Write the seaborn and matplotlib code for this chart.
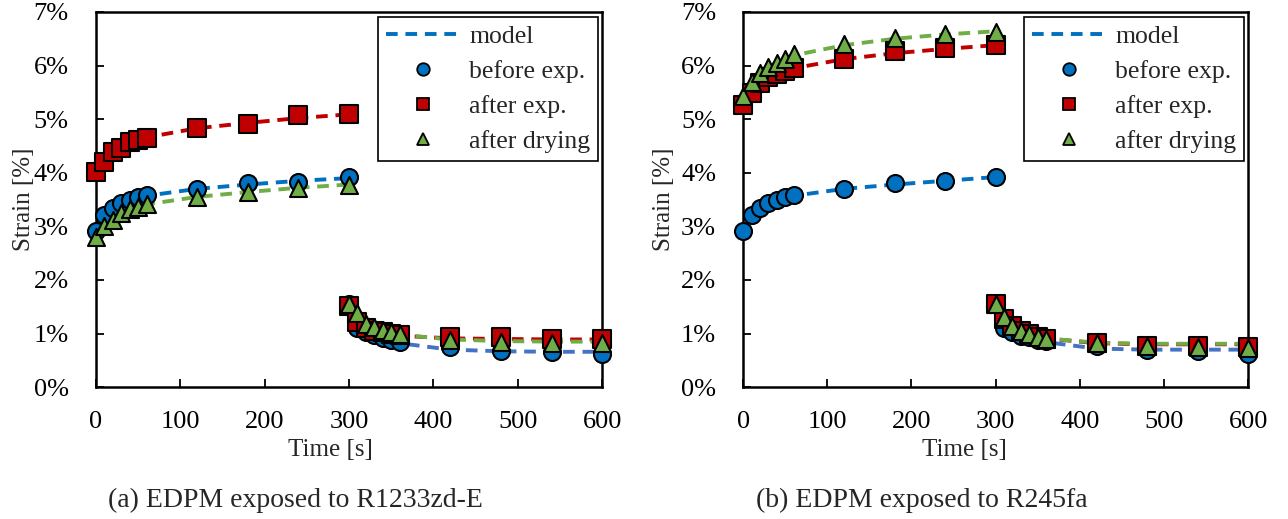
import matplotlib
matplotlib.use('Agg')
import matplotlib.pyplot as plt
import seaborn as sb
import pandas as pd
from matplotlib.ticker import FuncFormatter
from matplotlib.lines import Line2D

sb.set_style('ticks')
plt.rcParams['font.family'] = ['Liberation Serif', 'DejaVu Serif']

# time points: exposure (0-300 s) and recovery (300-600 s)
t_load = [0, 10, 20, 30, 40, 50, 60, 120, 180, 240, 300]
t_rec = [300, 310, 320, 330, 340, 350, 360, 420, 480, 540, 600]

# (a) R1233zd-E, strain in %
a_before_load = [2.92, 3.22, 3.35, 3.44, 3.50, 3.55, 3.58, 3.70, 3.80, 3.83, 3.92]
a_before_rec = [1.55, 1.10, 1.02, 0.97, 0.92, 0.88, 0.84, 0.75, 0.68, 0.65, 0.62]
a_after_load = [4.02, 4.20, 4.38, 4.46, 4.57, 4.62, 4.65, 4.83, 4.91, 5.08, 5.09]
a_after_rec = [1.52, 1.22, 1.10, 1.05, 1.02, 0.99, 0.97, 0.93, 0.93, 0.89, 0.89]
a_dry_load = [2.80, 3.00, 3.12, 3.24, 3.32, 3.37, 3.42, 3.55, 3.65, 3.72, 3.78]
a_dry_rec = [1.55, 1.38, 1.17, 1.12, 1.06, 1.03, 0.99, 0.88, 0.85, 0.83, 0.83]
# model curves (a)
a_mod_before_load = [2.92, 3.20, 3.33, 3.42, 3.48, 3.53, 3.57, 3.70, 3.78, 3.85, 3.90]
a_mod_before_rec = [1.55, 1.15, 1.02, 0.95, 0.90, 0.86, 0.82, 0.70, 0.67, 0.66, 0.66]
a_mod_after_load = [4.02, 4.22, 4.36, 4.46, 4.54, 4.60, 4.66, 4.83, 4.93, 5.02, 5.09]
a_mod_after_rec = [1.52, 1.25, 1.12, 1.05, 1.01, 0.98, 0.96, 0.91, 0.90, 0.89, 0.89]
a_mod_dry_load = [2.80, 3.00, 3.13, 3.23, 3.30, 3.36, 3.41, 3.55, 3.64, 3.72, 3.78]
a_mod_dry_rec = [1.55, 1.32, 1.18, 1.10, 1.05, 1.01, 0.98, 0.89, 0.86, 0.85, 0.85]

# (b) R245fa, strain in %
b_before_load = [2.92, 3.22, 3.35, 3.43, 3.50, 3.55, 3.58, 3.70, 3.80, 3.85, 3.92]
b_before_rec = [1.55, 1.10, 1.02, 0.95, 0.93, 0.88, 0.86, 0.77, 0.70, 0.68, 0.62]
b_after_load = [5.26, 5.49, 5.68, 5.78, 5.84, 5.90, 5.96, 6.12, 6.27, 6.33, 6.38]
b_after_rec = [1.55, 1.28, 1.15, 1.05, 1.00, 0.93, 0.90, 0.83, 0.77, 0.77, 0.75]
b_dry_load = [5.43, 5.69, 5.87, 5.98, 6.05, 6.13, 6.21, 6.40, 6.51, 6.58, 6.63]
b_dry_rec = [1.55, 1.30, 1.14, 1.04, 1.00, 0.93, 0.90, 0.82, 0.76, 0.75, 0.73]
# model curves (b)
b_mod_before_load = [2.92, 3.20, 3.33, 3.42, 3.48, 3.53, 3.57, 3.70, 3.78, 3.85, 3.92]
b_mod_before_rec = [1.55, 1.12, 1.00, 0.94, 0.90, 0.87, 0.84, 0.72, 0.70, 0.70, 0.70]
b_mod_after_load = [5.26, 5.50, 5.66, 5.76, 5.84, 5.90, 5.95, 6.12, 6.23, 6.31, 6.38]
b_mod_after_rec = [1.55, 1.28, 1.14, 1.05, 0.99, 0.94, 0.91, 0.82, 0.80, 0.80, 0.80]
b_mod_dry_load = [5.43, 5.69, 5.86, 5.97, 6.06, 6.13, 6.19, 6.38, 6.50, 6.58, 6.64]
b_mod_dry_rec = [1.55, 1.29, 1.14, 1.05, 0.99, 0.94, 0.91, 0.83, 0.81, 0.81, 0.81]

captions = ['(a) EDPM exposed to R1233zd-E', '(b) EDPM exposed to R245fa']
legend_labels = ['model', 'before exp.', 'after exp.', 'after drying']

c_blue = '#0070C0'
c_blue2 = '#4472C4'
c_red = '#C00000'
c_green = '#70AD47'

panels = [
    dict(before=(a_before_load, a_before_rec), after=(a_after_load, a_after_rec),
         dry=(a_dry_load, a_dry_rec),
         m_before=(a_mod_before_load, a_mod_before_rec), m_after=(a_mod_after_load, a_mod_after_rec),
         m_dry=(a_mod_dry_load, a_mod_dry_rec)),
    dict(before=(b_before_load, b_before_rec), after=(b_after_load, b_after_rec),
         dry=(b_dry_load, b_dry_rec),
         m_before=(b_mod_before_load, b_mod_before_rec), m_after=(b_mod_after_load, b_mod_after_rec),
         m_dry=(b_mod_dry_load, b_mod_dry_rec)),
]

fig = plt.figure(figsize=(12.88, 5.19), dpi=100)
ax_pos = [[0.0745, 0.254, 0.393, 0.723], [0.577, 0.254, 0.392, 0.723]]
xlabel_x = [0.464, 0.438]
ylabel_x = [-0.120, -0.135]
caption_x = [295 / 1288, 922 / 1288]

for i, p in enumerate(panels):
    ax = fig.add_axes(ax_pos[i])

    # model lines
    for key, col_load, col_rec in [('m_before', c_blue, c_blue2), ('m_after', c_red, c_red),
                                   ('m_dry', c_green, c_green)]:
        sb.lineplot(x=t_load, y=p[key][0], ax=ax, color=col_load, linestyle=(0, (3, 2)),
                    linewidth=2.8, zorder=2)
        sb.lineplot(x=t_rec, y=p[key][1], ax=ax, color=col_rec, linestyle=(0, (3, 2)),
                    linewidth=2.8, zorder=2)

    # measured points
    for key, col, mk, z in [('before', c_blue, 'o', 3), ('after', c_red, 's', 4),
                            ('dry', c_green, '^', 5)]:
        df = pd.DataFrame({'t': t_load + t_rec, 'v': p[key][0] + p[key][1]})
        sb.scatterplot(data=df, x='t', y='v', ax=ax, color=col, marker=mk, s=150,
                       edgecolor='black', linewidth=1.5, zorder=z, clip_on=False)

    ax.set_xlim(0, 600)
    ax.set_ylim(0, 7)
    ax.set_xticks(range(0, 601, 100))
    ax.set_yticks(range(0, 8))
    ax.yaxis.set_major_formatter(FuncFormatter(lambda v, pos: '%d%%' % v))
    ax.tick_params(direction='in', length=6, width=1.3, labelsize=19, colors='black')
    ax.tick_params(axis='y', pad=19.5)
    ax.tick_params(axis='x', pad=17)
    for s in ax.spines.values():
        s.set_linewidth(1.8)
        s.set_color('black')
    ax.set_xlabel('Time [s]', fontsize=18)
    ax.xaxis.set_label_coords(xlabel_x[i], -0.138)
    ax.set_ylabel('Strain [%]', fontsize=18)
    ax.yaxis.set_label_coords(ylabel_x[i], 0.5)

    handles = [Line2D([], [], color=c_blue, linestyle=(0, (3, 2)), linewidth=2.8),
               Line2D([], [], color=c_blue, marker='o', linestyle='none', markersize=9,
                      markeredgecolor='black', markeredgewidth=1.3),
               Line2D([], [], color=c_red, marker='s', linestyle='none', markersize=9,
                      markeredgecolor='black', markeredgewidth=1.3),
               Line2D([], [], color=c_green, marker='^', linestyle='none', markersize=9,
                      markeredgecolor='black', markeredgewidth=1.3)]
    leg = ax.legend(handles, legend_labels, loc='upper right', bbox_to_anchor=(0.992, 0.987),
                    fontsize=18.5, frameon=True, fancybox=False, framealpha=1,
                    edgecolor='black', borderaxespad=0.0, handlelength=2.9,
                    labelspacing=0.48, borderpad=0.3, handletextpad=0.35)
    leg.get_frame().set_linewidth(1.2)

    fig.text(caption_x[i], 1 - 500 / 519, captions[i], fontsize=20, ha='center', va='center')

fig.savefig('out.png', dpi=100)
